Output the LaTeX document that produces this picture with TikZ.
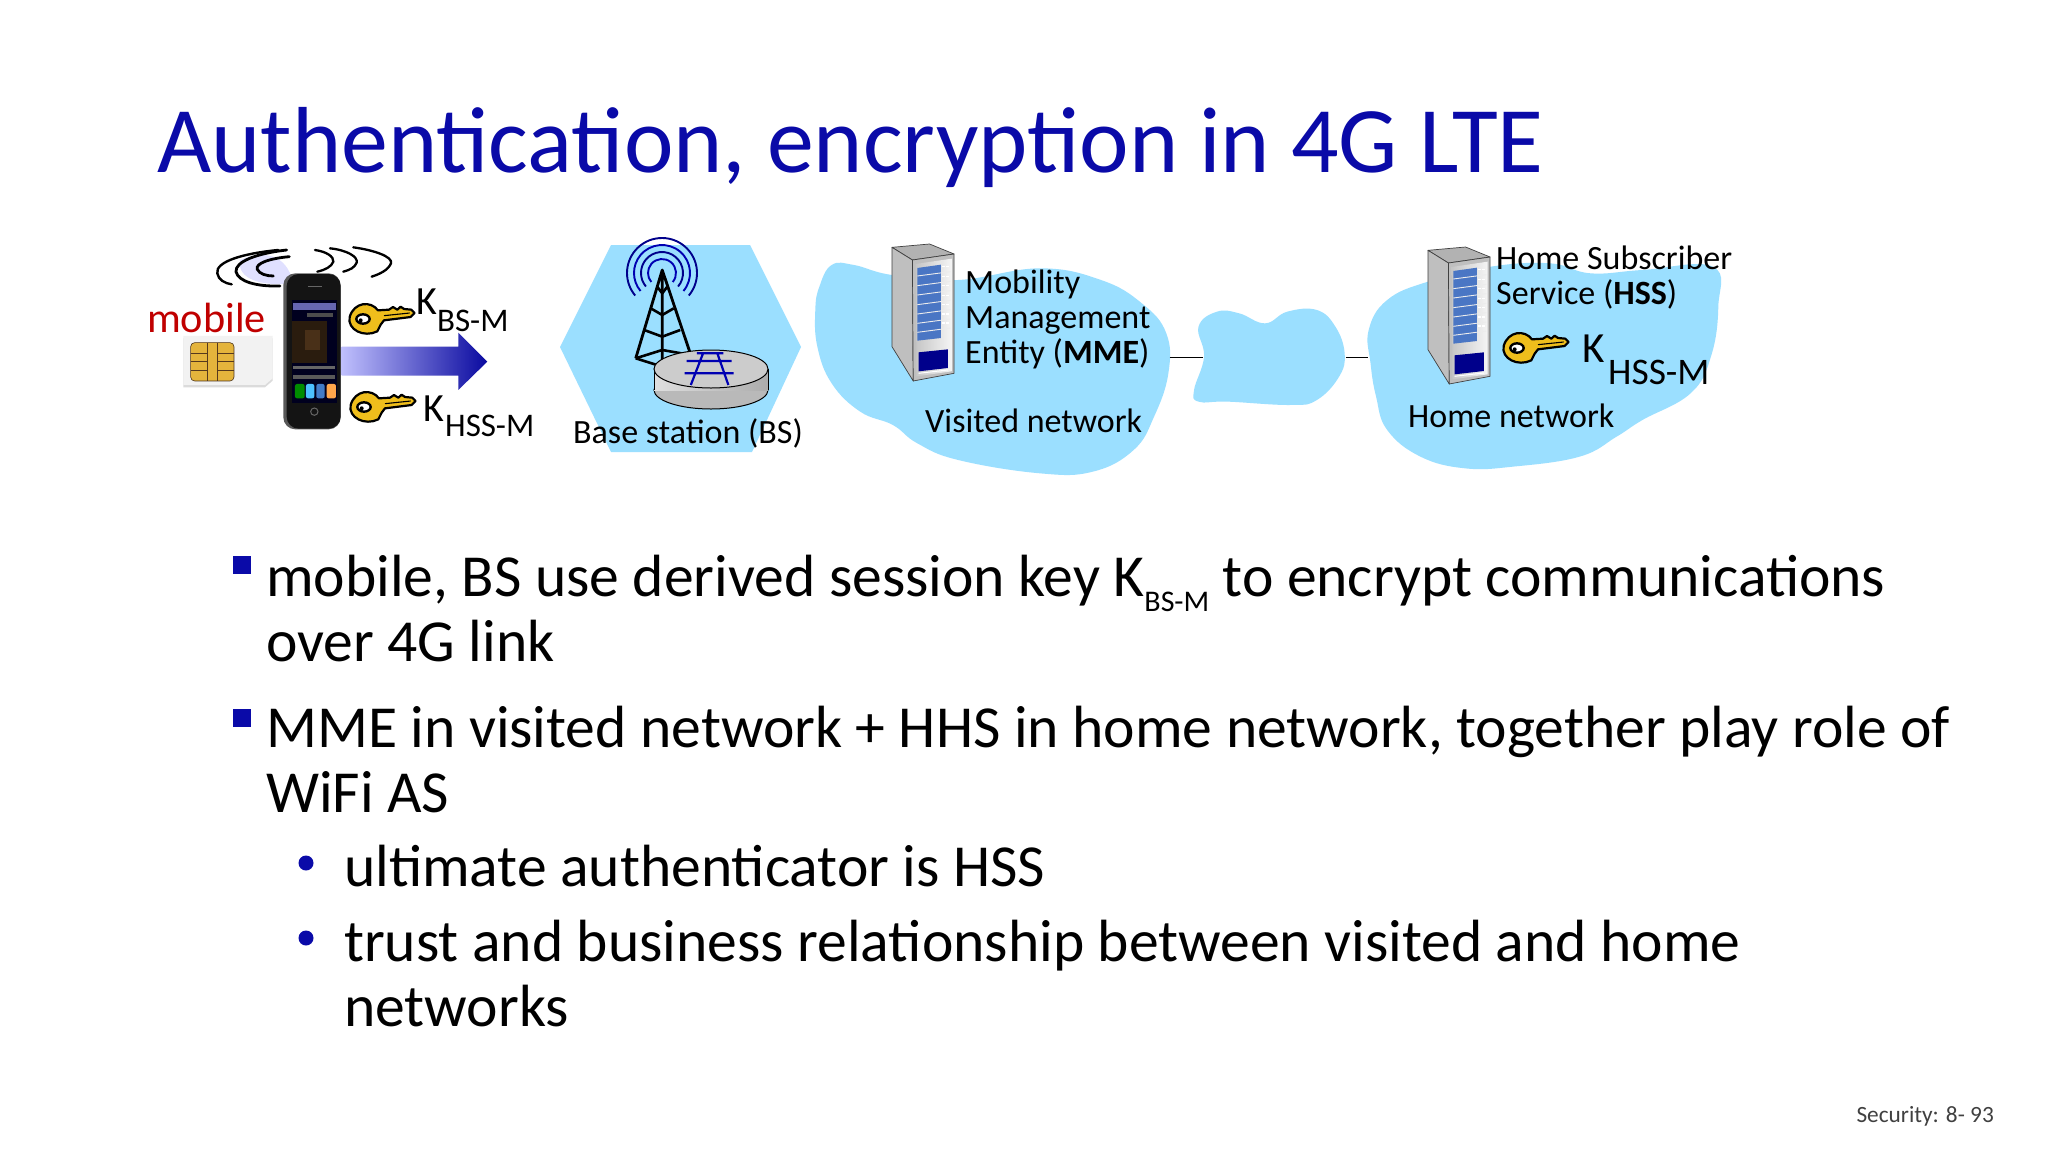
\documentclass[tikz,border=0pt]{standalone}
\usepackage{fontspec}
\setmainfont{Carlito}
\usetikzlibrary{shapes.geometric}
\definecolor{netblue}{HTML}{9BDFFF}
\definecolor{titleblue}{HTML}{0A0AA8}
\definecolor{keygold}{HTML}{EFBE1C}
\definecolor{mobred}{HTML}{C00000}
\definecolor{navyblock}{HTML}{00008B}
\definecolor{slotblue}{HTML}{4A76C4}
\newcommand{\fs}[1]{\fontsize{#1}{#1}\selectfont}
\newcommand{\drawkey}[2]{%
 \begin{scope}[shift={(#1pt,-#2pt)},x=0.3333pt,y=-0.3333pt]
  \filldraw[fill=keygold,draw=black,line width=2.2pt,line join=round]
   (87,22) .. controls (65,-8) and (15,-3) .. (2,42) .. controls (-6,80) and (45,105) .. (85,85)
   -- (95,65) -- (105,52) -- (185,42) -- (197,30) -- (187,20) -- (165,18) -- (155,11)
   -- (145,20) -- (132,12) -- (120,20) -- cycle;
  \draw[black,line width=1.1pt] (105,38) -- (182,30);
  \filldraw[fill=white,draw=black,line width=2.4pt] (42,48) ellipse[x radius=20,y radius=14];
  \fill[black] (35,52) circle[radius=6];
 \end{scope}}
\newcommand{\drawserver}[3]{%
 \begin{scope}[shift={(#1pt,-#2pt)},x=#3pt,y=-0.3333pt]
  \filldraw[fill=gray!60,draw=black!75,line width=.7pt,line join=round] (0,10) -- (92,0) -- (152,30) -- (50,48) -- cycle;
  \filldraw[fill=gray!50,draw=black!75,line width=.7pt,line join=round] (0,10) -- (50,48) -- (52,411) -- (0,308) -- cycle;
  \filldraw[fill=gray!50,draw=black!75,line width=.7pt,line join=round] (50,48) -- (152,30) -- (152,388) -- (52,411) -- cycle;
  \shade[left color=gray!45,right color=gray!8] (58,60) -- (146,44) -- (146,382) -- (60,397) -- cycle;
  \fill[slotblue] (62,72) -- (120,62) -- (120,282) -- (62,290) -- cycle;
  \foreach \yy in {96,125,153,182,210,238,265}{
   \draw[white!85!gray,line width=.9pt] (62,\yy) -- (143,\yy-13);
   \fill[white] (122,\yy-26) rectangle +(8,-4);
   \fill[white] (132,\yy-26) rectangle +(8,-4);}
  \fill[navyblock] (65,325) -- (137,316) -- (137,372) -- (65,382) -- cycle;
  \draw[white,line width=1pt] (65,388) -- (137,378);
 \end{scope}}
\begin{document}
\begin{tikzpicture}[x=1pt,y=-1pt,
  titletext/.style={anchor=base west,inner sep=0pt,text=titleblue,font=\fs{93.8}},
  bodytext/.style={anchor=base west,inner sep=0pt,text=black,font=\fs{59.6}},
  labeltext/.style={anchor=base west,inner sep=0pt,text=black,font=\fs{34}},
  keytext/.style={anchor=base west,inner sep=0pt,text=black,font=\fs{40}},
  squarebullet/.style={rectangle,fill=titleblue,inner sep=0pt,minimum size=18pt},
  roundbullet/.style={circle,fill=titleblue,inner sep=0pt,minimum size=15pt},
  netline/.style={draw=black,line width=1.4pt},
  wave/.style={black,line width=1.9pt,line cap=round}]
\useasboundingbox (0,0) rectangle (2048,1152);
\fill[white] (0,0) rectangle (2048,1152);

% title
\node[titletext] (title) at (157,172) {Authentication, encryption in 4G LTE};

% networks
\fill[netblue] (611,245) -- (750,245) -- (801,347) -- (752,452) -- (611,452) -- (560,347) -- cycle;
\begin{scope}[shift={(550pt,-230pt)},x=0.40816pt,y=-0.3333pt]
 \fill[netblue] plot[smooth cycle,tension=.7] coordinates {(660,170) (690,105) (745,105) (838,135) (1000,150) (1200,115) (1350,150) (1450,220) (1510,310) (1515,430) (1480,560) (1430,660) (1330,725) (1200,730) (1000,690) (900,640) (840,585) (760,545) (690,460) (655,350) (650,240)};
 \coordinate (mmeEdge) at (1518,382);
\end{scope}
\begin{scope}[shift={(1180pt,-230pt)},x=0.36996pt,y=-0.3333pt]
 \fill[netblue] plot[smooth cycle,tension=.7] coordinates {(50,290) (100,245) (160,250) (230,280) (290,245) (370,240) (420,290) (445,370) (430,440) (370,510) (300,525) (130,515) (50,515) (38,480) (65,380)};
 \fill[netblue] plot[smooth cycle,tension=.7] coordinates {(510,300) (560,210) (670,155) (840,110) (1000,100) (1110,130) (1250,120) (1440,110) (1455,230) (1435,380) (1380,490) (1250,570) (1180,620) (1080,680) (900,710) (770,715) (650,680) (560,600) (530,500) (515,400)};
 \coordinate (midLeft) at (62,382);
 \coordinate (midRight) at (448,382);
 \coordinate (homeEdge) at (508,382);
\end{scope}
\draw[netline] (mmeEdge) -- (midLeft);
\draw[netline] (midRight) -- (homeEdge);

% radio waves
\begin{scope}[shift={(130pt,-230pt)},x=0.3333pt,y=-0.3333pt]
 \fill[blue!12] (330,90) .. controls (400,60) and (470,70) .. (490,160) .. controls (400,170) and (320,150) .. (330,90) -- cycle;
 \draw[wave,line width=2.4pt] (445,60) .. controls (340,70) and (255,95) .. (262,130) .. controls (265,150) and (285,160) .. (305,163);
 \draw[wave,line width=2.8pt] (470,60) .. controls (380,70) and (315,95) .. (318,125) .. controls (325,155) and (380,170) .. (450,168);
 \draw[wave,line width=2.8pt] (478,80) .. controls (420,85) and (375,100) .. (382,118) .. controls (388,132) and (410,138) .. (430,138);
 \draw[wave,line width=2.3pt] (555,60) .. controls (590,65) and (612,80) .. (610,95) .. controls (605,110) and (585,120) .. (562,125);
 \draw[wave,line width=2.3pt] (600,55) .. controls (650,60) and (685,80) .. (680,98) .. controls (675,112) and (660,120) .. (640,125);
 \draw[wave,line width=2.3pt] (670,52) .. controls (730,60) and (790,80) .. (783,100) .. controls (775,120) and (750,132) .. (725,140);
 % SIM card
 \fill[black!14] (160,325) -- (160,472) -- (405,472) -- (428,452) -- (428,325) -- cycle;
 \fill[black!5] (160,318) -- (160,465) -- (405,465) -- (428,445) -- (428,318) -- cycle;
 \filldraw[fill=keygold!70!brown!90!white,draw=black!60!brown,line width=.6pt,rounded corners=4pt] (182,338) rectangle (312,453);
 \draw[black!55!brown,line width=.6pt] (182,370) -- (232,370) -- (232,420) -- (182,420) (182,395) -- (232,395) (312,370) -- (262,370) -- (262,420) -- (312,420) (312,395) -- (262,395) (232,338) -- (232,370) (262,338) -- (262,370) (232,420) -- (232,453) (262,420) -- (262,453);
 % phone
 \fill[black!65,rounded corners=12pt] (460,130) rectangle (632,598);
 \fill[black!92,rounded corners=12pt] (470,132) rectangle (632,596);
 \fill[black!88!blue] (487,210) rectangle (622,520);
 \fill[black!50!blue!60!white] (490,218) rectangle (618,240);
 \fill[black!70!white] (530,250) rectangle (610,262);
 \fill[brown!22!black] (487,272) rectangle (592,400);
 \fill[brown!38!black] (525,300) rectangle (570,360);
 \fill[black!60!white] (490,408) rectangle (615,418);
 \fill[black!65!white] (490,435) rectangle (615,448);
 \fill[green!55!black,rounded corners=2pt] (495,462) rectangle (524,505);
 \fill[blue!35!cyan!70!white,rounded corners=2pt] (528,462) rectangle (553,505);
 \fill[cyan!45!blue!80!white,rounded corners=2pt] (559,462) rectangle (584,505);
 \fill[orange!70!white,rounded corners=2pt] (590,462) rectangle (618,505);
 \draw[black!60!white,line width=1pt] (553,545) circle[radius=11];
 \draw[black!60!white,line width=1.4pt] (535,170) -- (575,170);
 % gradient arrow
 \path[shade,left color=blue!30!black!5!blue!25!white,right color=titleblue!95!black] (635,350) -- (985,350) -- (985,308) -- (1072,395) -- (985,480) -- (985,437) -- (635,437) -- cycle;
\end{scope}

% keys
\drawkey{349}{303}
\drawkey{350}{391}
\drawkey{1503}{332}

% tower
\begin{scope}[shift={(550pt,-230pt)},x=0.40816pt,y=-0.3333pt]
 \draw[black,line width=2.8pt,line join=round] (210,385) -- (275,120) -- (345,375) (275,120) -- (275,400);
 \foreach \yy in {170,235,300}{
  \pgfmathsetmacro{\dd}{65*(\yy-120)/265}
  \draw[black,line width=2.6pt,line join=round] (275-\dd,\yy) -- (275,\yy+20) -- (275+\dd,\yy);}
 \draw[black,line width=2.6pt] (210,385) -- (275,360) -- (345,375);
 \draw[black,line width=2.6pt] (210,385) -- (275,410);
\end{scope}
\foreach \rr/\cc in {35/navyblock,28/blue!70!black,21/navyblock,14/blue!70!black}{
 \draw[\cc,line width=1.9pt] (662,273) ++(40:\rr) arc[start angle=40,end angle=-220,radius=\rr];}
% router
\filldraw[fill=gray!55,draw=black,line width=1pt] (711,390) ellipse[x radius=57,y radius=19];
\shade[left color=gray!25,right color=gray!65] (654,369) rectangle (768,390);
\draw[black,line width=1pt] (654,369) -- (654,390) (768,369) -- (768,390);
\filldraw[fill=gray!40,draw=black,line width=1pt] (711,369) ellipse[x radius=57,y radius=19];
\begin{scope}[shift={(550pt,-230pt)},x=0.40816pt,y=-0.3333pt]
 \draw[blue!70!black,line width=2.2pt] (375,370) -- (345,465) (410,370) -- (437,465) (335,393) -- (445,393) (330,430) -- (450,430) (360,370) -- (425,370);
\end{scope}

% servers
\drawserver{892}{244}{0.40816}
\drawserver{1428}{247}{0.40816}

% labels
\node[font=\fs{42.3},anchor=base west,inner sep=0pt,text=mobred] (mobile) at (147,332) {mobile};
\node[keytext] (k1) at (416,314) {K};
\node[keytext,font=\fs{33}] (k1sub) at (437,331) {BS-M};
\node[keytext] (k2) at (423,421) {K};
\node[keytext,font=\fs{33}] (k2sub) at (445,436) {HSS-M};
\node[labeltext] (bs) at (573,443) {Base station (BS)};
\node[labeltext] (mme1) at (965,293) {Mobility};
\node[labeltext] (mme2) at (965,328) {Management};
\node[labeltext] (mme3) at (965,363) {Entity (\textbf{MME})};
\node[labeltext] (visited) at (925,432) {Visited network};
\node[labeltext] (hss1) at (1496,269) {Home Subscriber};
\node[labeltext] (hss2) at (1496,304) {Service (\textbf{HSS})};
\node[keytext,font=\fs{43}] (k3) at (1582,362) {K};
\node[keytext,font=\fs{37.5}] (k3sub) at (1608,384) {HSS-M};
\node[labeltext] (home) at (1408,427) {Home network};

% body
\node[squarebullet] (b1) at (242,565) {};
\node[bodytext] (l1) at (266,596) {mobile, BS use derived session key K\raisebox{-.26em}{\fs{30}BS-M} to encrypt communications};
\node[bodytext] (l2) at (266,661) {over 4G link};
\node[squarebullet] (b2) at (242,718) {};
\node[bodytext] (l3) at (266,747) {MME in visited network + HHS in home network, together play role of};
\node[bodytext] (l4) at (266,812) {WiFi AS};
\node[roundbullet] (b3) at (306,863) {};
\node[bodytext] (l5) at (344,886) {ultimate authenticator is HSS};
\node[roundbullet] (b4) at (306,938) {};
\node[bodytext] (l6) at (344,961) {trust and business relationship between visited and home};
\node[bodytext] (l7) at (344,1026) {networks};

% footer
\node[anchor=base east,inner sep=0pt,text=black!75,font=\fs{23.3}] (foot) at (1994,1122) {Security: 8- 93};
\end{tikzpicture}
\end{document}
